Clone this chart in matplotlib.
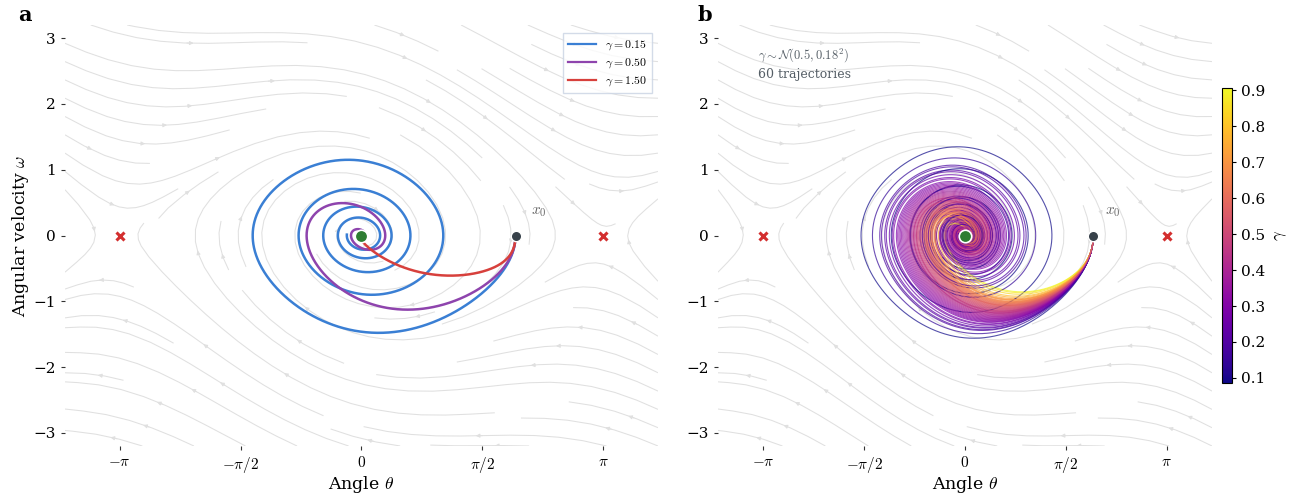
import numpy as np
import matplotlib.pyplot as plt
from matplotlib.lines import Line2D

plt.rcParams['font.family'] = ['DejaVu Serif']
plt.rcParams['mathtext.fontset'] = 'cm'

# panel a: damping values and line colours
gammas_a = [0.15, 0.50, 1.50]
colors_a = ["#3a7fd4", "#8e44ad", "#d7403c"]

# panel b: sampled damping values (60 trajectories)
gammas_b = [0.52, 0.31, 0.67, 0.44, 0.906, 0.38, 0.58, 0.21, 0.49, 0.73,
            0.35, 0.61, 0.27, 0.55, 0.46, 0.086, 0.64, 0.41, 0.79, 0.33,
            0.50, 0.57, 0.24, 0.69, 0.43, 0.36, 0.62, 0.18, 0.53, 0.47,
            0.84, 0.39, 0.29, 0.59, 0.45, 0.71, 0.32, 0.56, 0.14, 0.48,
            0.66, 0.42, 0.26, 0.60, 0.51, 0.76, 0.37, 0.54, 0.22, 0.63,
            0.40, 0.88, 0.34, 0.58, 0.30, 0.47, 0.70, 0.19, 0.44, 0.65]

x0 = [2.0, 0.0]
saddles = [-np.pi, np.pi]
xticks = [-np.pi, -np.pi / 2, 0, np.pi / 2, np.pi]
xticklabels = [r"$-\pi$", r"$-\pi/2$", r"$0$", r"$\pi/2$", r"$\pi$"]
yticks = [-3, -2, -1, 0, 1, 2, 3]
field_gamma = 0.3
T_end = 30.0

XLIM = (-3.85, 3.85)
YLIM = (-3.2, 3.2)


def rhs(s, g):
    return np.array([s[1], -g * s[1] - np.sin(s[0])])


def trajectory(g, x_start, t_end=T_end, dt=0.01):
    n = int(t_end / dt)
    out = np.zeros((n + 1, 2))
    s = np.array(x_start, dtype=float)
    out[0] = s
    for i in range(n):
        k1 = rhs(s, g)
        k2 = rhs(s + dt / 2 * k1, g)
        k3 = rhs(s + dt / 2 * k2, g)
        k4 = rhs(s + dt * k3, g)
        s = s + dt / 6 * (k1 + 2 * k2 + 2 * k3 + k4)
        out[i + 1] = s
    return out


def background(ax):
    th = np.linspace(XLIM[0], XLIM[1], 80)
    om = np.linspace(YLIM[0], YLIM[1], 80)
    TH, OM = np.meshgrid(th, om)
    U = OM
    V = -field_gamma * OM - np.sin(TH)
    ax.streamplot(th, om, U, V, density=0.8, color="#e0e0e0",
                  linewidth=0.75, arrowsize=0.55, zorder=0)
    ax.plot(saddles, [0, 0], "x", color="#d32f2f", ms=6, mew=2.2, zorder=5)
    ax.set_xlim(XLIM)
    ax.set_ylim(YLIM)
    ax.set_xticks(xticks)
    ax.set_xticklabels(xticklabels)
    ax.set_yticks(yticks)
    for sp in ax.spines.values():
        sp.set_visible(False)
    ax.tick_params(length=3, width=0.8, colors="#333333", labelsize=11,
                   labelcolor="black")
    ax.set_xlabel(r"Angle $\theta$", fontsize=12.5, labelpad=-1)


def endpoints(ax):
    ax.plot(0, 0, "o", color="#2e7d32", mec="white", mew=1.2, ms=9, zorder=10)
    ax.plot(x0[0], x0[1], "o", color="#37414a", mec="white", mew=1.0, ms=7.5,
            zorder=10)
    ax.text(x0[0] + 0.3, x0[1] + 0.35, r"$x_0$", color="#666666",
            fontsize=11, ha="center", va="center")


fig = plt.figure(figsize=(12.9, 4.97), dpi=100)
W, H = 1290.0, 497.0
ax1 = fig.add_axes([65 / W, 1 - 446 / H, 593 / W, 421 / H])
ax2 = fig.add_axes([718 / W, 1 - 446 / H, 494 / W, 421 / H])
cax = fig.add_axes([1222 / W, 1 - 383 / H, 10 / W, 295 / H])

# panel a
background(ax1)
handles = []
for g, c in zip(gammas_a, colors_a):
    tr = trajectory(g, x0)
    ax1.plot(tr[:, 0], tr[:, 1], color=c, lw=1.8, zorder=4)
    handles.append(Line2D([], [], color=c, lw=1.6, label=r"$\gamma = %.2f$" % g))
endpoints(ax1)
ax1.set_ylabel(r"Angular velocity $\omega$", fontsize=12.5, labelpad=2)
leg = ax1.legend(handles=handles, loc="upper right", fontsize=8.5,
                 frameon=True, fancybox=False, borderpad=0.4,
                 labelspacing=0.3, handlelength=2.4, borderaxespad=0,
                 bbox_to_anchor=(0.99, 0.981))
leg.get_frame().set_edgecolor("#c9d3e3")
leg.get_frame().set_linewidth(1.0)

# panel b
background(ax2)
cmap = plt.get_cmap("plasma")
norm = plt.Normalize(min(gammas_b), max(gammas_b))
for g in gammas_b:
    tr = trajectory(g, x0)
    ax2.plot(tr[:, 0], tr[:, 1], color=cmap(norm(g)), lw=0.8, alpha=0.7,
             zorder=4)
endpoints(ax2)
ax2.text(0.081, 0.928, r"$\gamma \sim \mathcal{N}(0.5, 0.18^2)$",
         transform=ax2.transAxes, color="#555e66", fontsize=9, va="center")
ax2.text(0.081, 0.882, "60 trajectories", transform=ax2.transAxes,
         color="#555e66", fontsize=9, va="center")

sm = plt.cm.ScalarMappable(cmap=cmap, norm=norm)
cb = fig.colorbar(sm, cax=cax)
cb.set_ticks([0.1, 0.2, 0.3, 0.4, 0.5, 0.6, 0.7, 0.8, 0.9])
cb.ax.tick_params(labelsize=11, length=3)
cb.set_label(r"$\gamma$", fontsize=12, rotation=90, labelpad=5)

fig.text(18 / W, 1 - 15 / H, "a", fontsize=15, fontweight="bold",
         va="center", ha="left")
fig.text(698 / W, 1 - 15 / H, "b", fontsize=15, fontweight="bold",
         va="center", ha="left")

fig.savefig("out.png", dpi=100)
